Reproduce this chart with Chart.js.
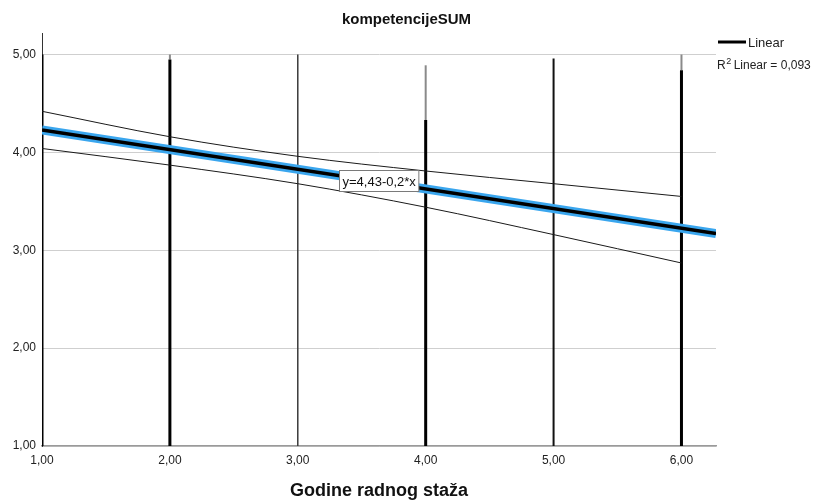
<!DOCTYPE html>
<html>
<head>
<meta charset="utf-8">
<script src="https://cdn.jsdelivr.net/npm/chart.js@4.4.1/dist/chart.umd.min.js"></script>
<style>
  html, body { margin: 0; padding: 0; background: #ffffff; }
  #wrap { width: 813px; height: 500px; }
</style>
</head>
<body>
<div id="wrap"><canvas id="c" width="813" height="500"></canvas></div>
<script>
// ---- data ----
const xCategories = [1, 2, 3, 4, 5, 6];
const pointMin   = [1, 1, 1, 1, 1, 1];
const pointMax   = [5.0, 5.0, 5.0, 4.89, 4.96, 5.0];
const denseMax   = [5.0, 4.95, 5.0, 4.33, 4.96, 4.84];
const fitX       = [1, 6.27];
const fitY       = [4.23, 3.17];
const ciX        = [1, 2, 3, 4, 5, 6];
const ciUpper    = [4.42, 4.16, 3.96, 3.81, 3.68, 3.55];
const ciLower    = [4.04, 3.87, 3.68, 3.44, 3.16, 2.87];
const xTicks     = [1, 2, 3, 4, 5, 6];
const yTicks     = [1, 2, 3, 4, 5];
const xRange     = [1, 6.27];
const yRange     = [1, 5.22];
const equationText = 'y=4,43-0,2*x';
const r2Text = '0,093';

// ---- styles (separate from data) ----
const columnWidths = [3, 3, 1.5, 3, 2, 3];
const columnColors = ['#000000', '#000000', '#3a3a3a', '#000000', '#111111', '#000000'];
const FONT = '"Liberation Sans", Arial, Helvetica, sans-serif';

const fmt = v => v.toFixed(2).replace('.', ',');

const datasets = [];
xCategories.forEach((x, i) => {
  if (pointMax[i] > denseMax[i]) {
    datasets.push({
      data: [{x: x, y: denseMax[i]}, {x: x, y: pointMax[i]}],
      borderColor: '#8a8a8a', borderWidth: Math.max(1.5, columnWidths[i] - 1),
      pointRadius: 0, order: 5
    });
  }
  datasets.push({
    data: [{x: x, y: pointMin[i]}, {x: x, y: denseMax[i]}],
    borderColor: columnColors[i], borderWidth: columnWidths[i],
    pointRadius: 0, order: 4
  });
});
datasets.push({
  data: ciX.map((x, i) => ({x: x, y: ciUpper[i]})),
  borderColor: '#1a1a1a', borderWidth: 1, pointRadius: 0,
  cubicInterpolationMode: 'monotone', order: 3
});
datasets.push({
  data: ciX.map((x, i) => ({x: x, y: ciLower[i]})),
  borderColor: '#1a1a1a', borderWidth: 1, pointRadius: 0,
  cubicInterpolationMode: 'monotone', order: 3
});
datasets.push({
  data: fitX.map((x, i) => ({x: x, y: fitY[i]})),
  borderColor: '#3aa6ee', borderWidth: 9, pointRadius: 0, order: 2
});
datasets.push({
  data: fitX.map((x, i) => ({x: x, y: fitY[i]})),
  borderColor: '#000000', borderWidth: 3.5, pointRadius: 0, order: 1
});

const extras = {
  id: 'extras',
  afterDatasetsDraw(chart) {
    const {ctx, scales: {x, y}} = chart;
    ctx.save();
    const cx = x.getPixelForValue(3.63), cy = y.getPixelForValue(3.71);
    ctx.font = '13px ' + FONT;
    const tw = ctx.measureText(equationText).width;
    const bw = tw + 6, bh = 21;
    const bx = Math.round(cx - bw / 2) + 0.5, by = Math.round(cy - bh / 2) + 0.5;
    ctx.fillStyle = '#ffffff';
    ctx.fillRect(bx, by, bw, bh);
    ctx.strokeStyle = '#7a7a7a';
    ctx.lineWidth = 1;
    ctx.strokeRect(bx, by, bw, bh);
    ctx.fillStyle = '#111111';
    ctx.textAlign = 'center';
    ctx.textBaseline = 'middle';
    ctx.fillText(equationText, bx + bw / 2, by + bh / 2 + 1);

    const lx = x.right + 2;
    ctx.strokeStyle = '#000000';
    ctx.lineWidth = 3;
    ctx.beginPath();
    ctx.moveTo(lx, 42);
    ctx.lineTo(lx + 28, 42);
    ctx.stroke();
    ctx.fillStyle = '#222222';
    ctx.textAlign = 'left';
    ctx.font = '13px ' + FONT;
    ctx.fillText('Linear', lx + 30, 43);
    ctx.font = '12px ' + FONT;
    let tx = x.right + 1;
    ctx.fillText('R', tx, 66);
    tx += ctx.measureText('R').width;
    ctx.font = '9px ' + FONT;
    ctx.fillText('2', tx + 0.5, 62);
    tx += ctx.measureText('2').width + 3;
    ctx.font = '12px ' + FONT;
    ctx.fillText('Linear = ' + r2Text, tx, 66);
    ctx.restore();
  }
};

new Chart(document.getElementById('c'), {
  type: 'line',
  data: { datasets: datasets },
  options: {
    responsive: false,
    animation: false,
    devicePixelRatio: 1,
    layout: { padding: 0 },
    plugins: {
      legend: { display: false },
      tooltip: { enabled: false },
      title: {
        display: true,
        text: 'kompetencijeSUM',
        color: '#111111',
        font: { family: FONT, size: 15, weight: 'bold', lineHeight: 1.2 },
        padding: { top: 11, bottom: 4 }
      }
    },
    scales: {
      x: {
        type: 'linear',
        min: xRange[0], max: xRange[1],
        afterBuildTicks: s => { s.ticks = xTicks.map(v => ({value: v})); },
        afterFit: s => { s.height = 54; },
        grid: { display: false, drawTicks: false },
        border: { display: true, color: '#9a9a9a', width: 1.5 },
        ticks: {
          padding: 7, color: '#222222',
          font: { family: FONT, size: 12 },
          maxRotation: 0, autoSkip: false,
          callback: v => fmt(v)
        },
        title: {
          display: true, text: 'Godine radnog staža', color: '#111111',
          font: { family: FONT, size: 18, weight: 'bold', lineHeight: 1.0 },
          padding: { top: 0, bottom: 0 }
        }
      },
      y: {
        type: 'linear',
        min: yRange[0], max: yRange[1],
        afterBuildTicks: s => { s.ticks = yTicks.map(v => ({value: v})); },
        afterFit: s => { s.width = 42; },
        grid: { color: '#cfcfcf', lineWidth: 1, drawTicks: false },
        border: { display: true, color: '#333333', width: 1 },
        ticks: {
          padding: 6, color: '#222222',
          font: { family: FONT, size: 12 },
          autoSkip: false,
          callback: v => fmt(v)
        }
      },
      yRight: {
        type: 'linear',
        position: 'right',
        min: yRange[0], max: yRange[1],
        afterFit: s => { s.width = 97; },
        grid: { display: false, drawTicks: false },
        border: { display: false },
        ticks: { display: false }
      }
    }
  },
  plugins: [extras]
});
</script>
</body>
</html>
